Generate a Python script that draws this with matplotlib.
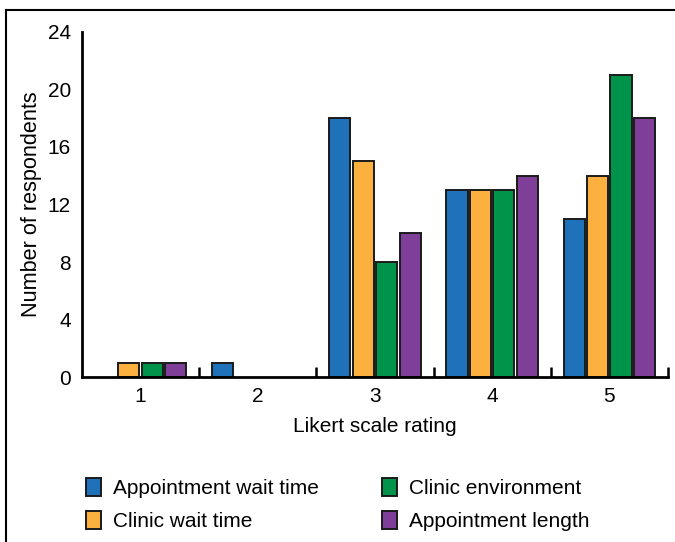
import numpy as np
import matplotlib
matplotlib.use("Agg")
import matplotlib.pyplot as plt
from matplotlib.lines import Line2D

plt.rcParams["font.family"] = ["Liberation Sans", "DejaVu Sans"]

ratings = [1, 2, 3, 4, 5]
series = ["Appointment wait time", "Clinic wait time",
          "Clinic environment", "Appointment length"]
appt_wait = [0, 1, 18, 13, 11]
clinic_wait = [1, 0, 15, 13, 14]
clinic_env = [1, 0, 8, 13, 21]
appt_length = [1, 0, 10, 14, 18]
colors = ["#1f71ba", "#fbb040", "#00934a", "#7f3f98"]

FS = 15

fig = plt.figure(figsize=(6.75, 5.42), dpi=100)
ax = fig.add_axes([0.1215, 0.3044, 0.868, 0.6366])

x = np.arange(len(ratings)) + 1
width = 0.18
offsets = [-0.3, -0.1, 0.1, 0.3]
for vals, off, c, name in zip([appt_wait, clinic_wait, clinic_env, appt_length],
                              offsets, colors, series):
    h = np.array(vals, dtype=float)
    mask = h > 0
    ax.bar(x[mask] + off, h[mask], width, color=c, edgecolor="#1a1a1a",
           linewidth=1.4, label=name, zorder=2)

ax.set_xlim(0.5, 5.5)
ax.set_ylim(0, 24)
ax.set_yticks(range(0, 25, 4))
ax.set_xticks(x)
ax.set_xticks(np.arange(1.5, 5.6, 1), minor=True)
ax.tick_params(axis="y", length=0, labelsize=FS, pad=8)
ax.tick_params(axis="x", which="major", length=0, labelsize=FS, pad=7)
ax.tick_params(axis="x", which="minor", direction="in", length=7, width=1.8)
for s in ["top", "right"]:
    ax.spines[s].set_visible(False)
for s in ["left", "bottom"]:
    ax.spines[s].set_linewidth(2)
ax.set_ylabel("Number of respondents", fontsize=15.6, labelpad=4)
ax.set_xlabel("Likert scale rating", fontsize=FS, labelpad=8)

fig.legend(loc="upper left", bbox_to_anchor=(0.128, 0.118), ncol=2,
           frameon=False, fontsize=FS, handlelength=0.72, handleheight=0.95,
           handletextpad=0.55, columnspacing=3.05, labelspacing=0.6,
           borderaxespad=0, borderpad=0)

# frame lines around the figure (top and left)
fig.add_artist(Line2D([0.009, 1.0], [0.981, 0.981], color="black", lw=1.5,
                      transform=fig.transFigure))
fig.add_artist(Line2D([0.009, 0.009], [0.0, 0.981], color="black", lw=1.5,
                      transform=fig.transFigure))

fig.savefig("out.png", dpi=100)
